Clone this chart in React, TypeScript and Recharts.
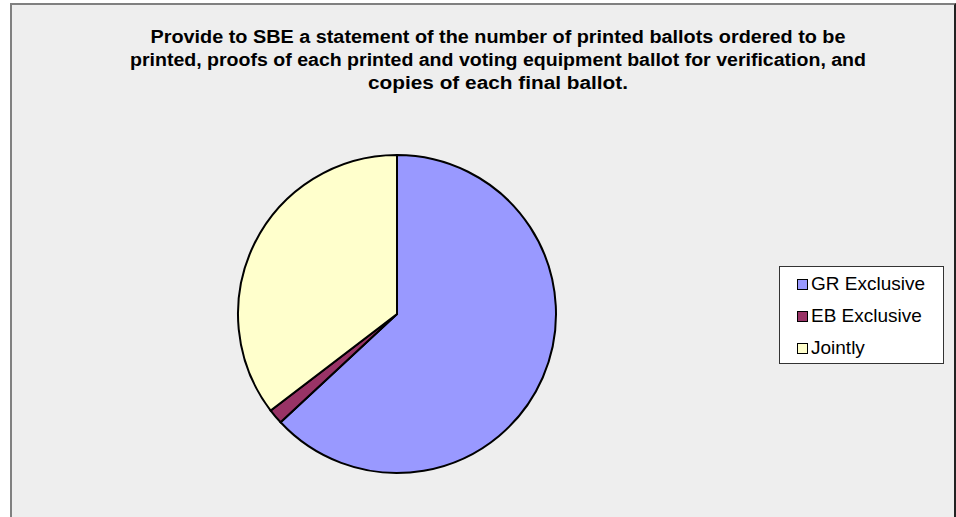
import React from "react";
import { PieChart, Pie, Cell, Legend } from "recharts";

const categories = ["GR Exclusive", "EB Exclusive", "Jointly"];
const values = [41, 1, 23];
const colors = ["#9999FF", "#993366", "#FFFFCC"];
const titleLines = [
  "Provide to SBE a statement of the number of printed ballots ordered to be",
  "printed, proofs of each printed and voting equipment ballot for verification, and",
  "copies of each final ballot.",
];
const titleWidths = [695, 736, 260];

const data = categories.map((name, i) => ({ name, value: values[i] }));

const LegendContent = () => {
  return (
    <div
      style={{
        width: 165,
        height: 98,
        boxSizing: "border-box",
        border: "1px solid #333",
        background: "#FFFFFF",
        paddingTop: 1,
        paddingLeft: 17,
        fontFamily: "'Liberation Sans', Arial, sans-serif",
        fontSize: 19,
        color: "#000",
      }}
    >
      {categories.map((c, i) => (
        <div
          key={c}
          style={{ height: 32, lineHeight: "32px", display: "flex", alignItems: "center" }}
        >
          <span
            style={{
              display: "inline-block",
              width: 9,
              height: 9,
              border: "1px solid #000",
              background: colors[i],
              marginRight: 3,
            }}
          />
          <span>{c}</span>
        </div>
      ))}
    </div>
  );
};

export default function App() {
  const baselines = [43, 66, 89];
  return (
    <div style={{ position: "absolute", left: 0, top: 0, width: 956, height: 517, overflow: "hidden", background: "#FFFFFF" }}>
      <div
        style={{
          position: "absolute",
          left: 10,
          top: 3,
          width: 946,
          height: 540,
          boxSizing: "border-box",
          borderLeft: "2px solid #808080",
          borderTop: "2px solid #808080",
          borderRight: "2px solid #222222",
          background: "#EEEEEE",
        }}
      />
      <svg
        width={956}
        height={120}
        style={{ position: "absolute", left: 0, top: 0 }}
      >
        {titleLines.map((t, i) => (
          <text
            key={i}
            x={498}
            y={baselines[i]}
            textAnchor="middle"
            fontFamily="'Liberation Sans', Arial, sans-serif"
            fontWeight="bold"
            fontSize={18}
            textLength={titleWidths[i]}
            lengthAdjust="spacingAndGlyphs"
            fill="#000"
          >
            {t}
          </text>
        ))}
      </svg>
      <div style={{ position: "absolute", left: 0, top: 0 }}>
        <PieChart width={956} height={517} margin={{ top: 0, right: 0, bottom: 0, left: 0 }}>
          <Pie
            data={data}
            dataKey="value"
            nameKey="name"
            cx={397}
            cy={314}
            outerRadius={159}
            startAngle={90}
            endAngle={-270}
            stroke="#000000"
            strokeWidth={2}
            isAnimationActive={false}
            labelLine={false}
          >
            {data.map((d, i) => (
              <Cell key={d.name} fill={colors[i]} />
            ))}
          </Pie>
          <Legend
            content={<LegendContent />}
            layout="vertical"
            wrapperStyle={{ position: "absolute", left: 779, top: 266, width: 165, height: 98 }}
          />
        </PieChart>
      </div>
    </div>
  );
}
